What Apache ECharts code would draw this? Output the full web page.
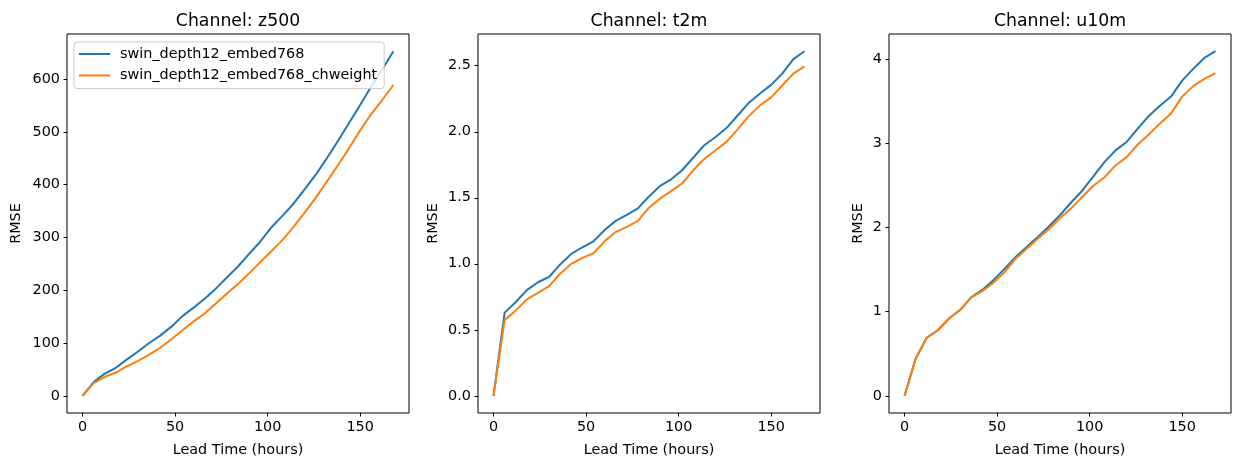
<!DOCTYPE html>
<html>
<head>
<meta charset="utf-8">
<script src="https://cdn.jsdelivr.net/npm/echarts@6/dist/echarts.min.js"></script>
<style>
html,body{margin:0;padding:0;background:#fff;}
#chart{width:1234px;height:462px;}
</style>
</head>
<body>
<div id="chart"></div>
<script>
const leadTimes = [0,6,12,18,24,30,36,42,48,54,60,66,72,78,84,90,96,102,108,114,120,126,132,138,144,150,156,162,168];
const seriesNames = ['swin_depth12_embed768','swin_depth12_embed768_chweight'];
const channels = ['z500','t2m','u10m'];

const z500Base = [0,26,42,53,69,84,100,114,131,151,167,184,203,224,245,269,292,319,341,364,391,419,450,483,517,551,586,619,653];
const z500Chw  = [0,24,36,44,56,66,78,91,107,124,141,156,175,194,212,232,253,274,295,320,347,375,406,437,469,503,534,561,589];

const t2mBase = [0,0.63,0.71,0.80,0.86,0.90,0.995,1.075,1.125,1.17,1.255,1.325,1.37,1.42,1.51,1.59,1.64,1.71,1.805,1.90,1.96,2.03,2.125,2.22,2.29,2.355,2.44,2.55,2.61];
const t2mChw  = [0,0.575,0.645,0.73,0.78,0.83,0.925,1.00,1.045,1.08,1.17,1.24,1.28,1.325,1.425,1.495,1.55,1.61,1.71,1.795,1.86,1.925,2.02,2.12,2.20,2.26,2.35,2.44,2.495];

const u10mBase = [0,0.44,0.69,0.78,0.92,1.02,1.17,1.26,1.375,1.51,1.65,1.77,1.89,2.015,2.15,2.30,2.44,2.61,2.78,2.92,3.02,3.18,3.33,3.45,3.56,3.75,3.89,4.02,4.10];
const u10mChw  = [0,0.44,0.69,0.78,0.92,1.02,1.17,1.245,1.345,1.47,1.63,1.75,1.87,1.985,2.115,2.23,2.365,2.50,2.60,2.74,2.84,2.99,3.11,3.24,3.36,3.56,3.685,3.77,3.84];

const xTicks = [0,50,100,150];
const z500Ticks = [0,100,200,300,400,500,600];
const t2mTicks = [0,0.5,1.0,1.5,2.0,2.5];
const u10mTicks = [0,1,2,3,4];

const colors = ['#1f77b4','#ff7f0e'];
const FONT = 'DejaVu Sans';
const FS = 14.4;

const panels = [
  {base: z500Base, chw: z500Chw, ticks: z500Ticks, fmt: v => String(Math.round(v)), nameGap: 44},
  {base: t2mBase, chw: t2mChw, ticks: t2mTicks, fmt: v => v.toFixed(1), nameGap: 38},
  {base: u10mBase, chw: u10mChw, ticks: u10mTicks, fmt: v => String(Math.round(v)), nameGap: 24}
];
const gridLefts = [67, 478, 889];
const gridW = 342, gridTop = 34, gridH = 384;

function pair(xs, ys){ return xs.map((x,i)=>[x, ys[i]]); }

const grids = [], xAxes = [], yAxes = [], series = [], titles = [];
panels.forEach((p, i) => {
  grids.push({left: gridLefts[i], top: gridTop, width: gridW, height: gridH, show: true,
    borderColor: '#000', borderWidth: 1, backgroundColor: 'transparent', containLabel: false});
  const xMax = Math.max(...leadTimes), xMin = Math.min(...leadTimes);
  const xr = xMax - xMin;
  xAxes.push({type: 'value', gridIndex: i, min: xMin - 0.05*xr, max: xMax + 0.05*xr,
    axisLine: {show: false, onZero: false},
    axisTick: {show: true, inside: false, length: 3.5, lineStyle: {color: '#000', width: 1}, customValues: xTicks},
    axisLabel: {show: true, margin: 7, color: '#000', fontSize: FS, fontFamily: FONT, customValues: xTicks,
      formatter: v => String(v)},
    splitLine: {show: false},
    name: 'Lead Time (hours)', nameLocation: 'middle', nameGap: 30,
    nameTextStyle: {color: '#000', fontSize: FS, fontFamily: FONT}
  });
  const all = p.base.concat(p.chw);
  const yMax = Math.max(...all), yMin = Math.min(...all);
  const yr = yMax - yMin;
  yAxes.push({type: 'value', gridIndex: i, min: yMin - 0.05*yr, max: yMax + 0.05*yr,
    axisLine: {show: false, onZero: false},
    axisTick: {show: true, inside: false, length: 3.5, lineStyle: {color: '#000', width: 1}, customValues: p.ticks},
    axisLabel: {show: true, margin: 7, color: '#000', fontSize: FS, fontFamily: FONT, customValues: p.ticks,
      formatter: p.fmt},
    splitLine: {show: false},
    name: 'RMSE', nameLocation: 'middle', nameGap: p.nameGap,
    nameTextStyle: {color: '#000', fontSize: FS, fontFamily: FONT}
  });
  [p.base, p.chw].forEach((ys, k) => {
    series.push({type: 'line', name: seriesNames[k], xAxisIndex: i, yAxisIndex: i,
      data: pair(leadTimes, ys), symbol: 'none', showSymbol: false,
      lineStyle: {color: colors[k], width: 2}, itemStyle: {color: colors[k]},
      animation: false, z: 2 + k});
  });
  titles.push({text: 'Channel: ' + channels[i], left: gridLefts[i] + gridW/2, top: 13, textAlign: 'center',
    padding: 0, textStyle: {color: '#000', fontSize: 17.3, fontWeight: 'normal', fontFamily: FONT}});
});

const chart = echarts.init(document.getElementById('chart'), null, {renderer: 'canvas'});
chart.setOption({
  animation: false,
  backgroundColor: '#fff',
  title: titles,
  grid: grids,
  xAxis: xAxes,
  yAxis: yAxes,
  legend: {
    data: seriesNames,
    orient: 'vertical',
    left: 74, top: 42,
    padding: [5, 7, 6, 5],
    itemGap: 7.5,
    itemWidth: 31, itemHeight: 2,
    icon: 'rect',
    backgroundColor: 'rgba(255,255,255,0.8)',
    borderColor: '#cccccc', borderWidth: 1, borderRadius: 3,
    textStyle: {color: '#000', fontSize: FS, fontFamily: FONT, padding: [0,0,0,5]},
    selectedMode: false,
    z: 10
  },
  series: series
});
</script>
</body>
</html>
